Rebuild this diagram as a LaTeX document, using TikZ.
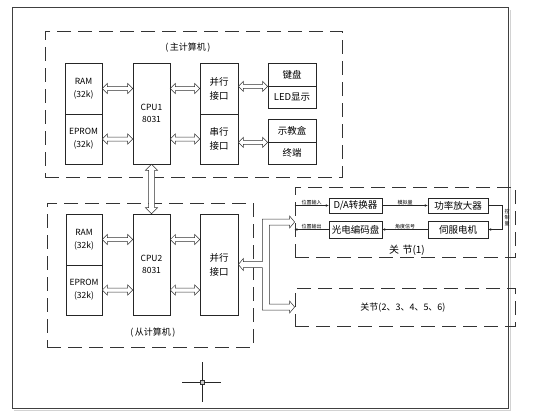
\documentclass[tikz,border=0pt]{standalone}
\usepackage{fontspec}
\setmainfont{Noto Sans CJK SC}
\usetikzlibrary{arrows.meta,calc}
\newcommand\hdarr[2]{\draw[darr] let \p1=(#1),\p2=(#2) in
 (\x1,\y1) -- (\x1+5pt,\y1+5pt) -- (\x1+5pt,\y1+2pt) -- (\x2-5pt,\y1+2pt) -- (\x2-5pt,\y1+5pt) -- (\x2,\y1)
 -- (\x2-5pt,\y1-5pt) -- (\x2-5pt,\y1-2pt) -- (\x1+5pt,\y1-2pt) -- (\x1+5pt,\y1-5pt) -- cycle;}
\newcommand\vdarr[2]{\draw[darr] let \p1=(#1),\p2=(#2) in
 (\x1,\y1) -- (\x1+6pt,\y1-6pt) -- (\x1+3pt,\y1-6pt) -- (\x1+3pt,\y2+6pt) -- (\x1+6pt,\y2+6pt) -- (\x1,\y2)
 -- (\x1-6pt,\y2+6pt) -- (\x1-3pt,\y2+6pt) -- (\x1-3pt,\y1-6pt) -- (\x1-6pt,\y1-6pt) -- cycle;}
\tikzset{
 blk/.style={draw=black!85, line width=0.7pt, inner sep=0pt, align=center, font=\fontsize{8.5}{13}\selectfont},
 cjk/.style={font=\fontsize{9.5}{14}\selectfont},
 darr/.style={draw=black!80, line width=0.5pt, fill=white},
 dbox/.style={draw=black!80, line width=0.8pt, dash pattern=on 14pt off 7pt, inner sep=0pt},
 sig/.style={draw=black!85, line width=0.6pt, -{Stealth[length=3pt,width=2.5pt]}},
 tinylbl/.style={font=\fontsize{5}{5.5}\selectfont, inner sep=0.5pt},
}
\begin{document}
\begin{tikzpicture}[x=1pt,y=-1pt]
\useasboundingbox (0,0) rectangle (554,420);
% outer frame
\draw[gray!35, line width=1pt] (14,410) -- (510,410) -- (510,10);
\draw[black!75, line width=1pt] (12,8) rectangle (508,408);

% dashed group boxes
\node[dbox, minimum width=297pt, minimum height=146pt] (mainbox) at (193.5,104) {};
\node[dbox, minimum width=206pt, minimum height=144pt] (slavebox) at (150,275) {};
\node[dbox, minimum width=220pt, minimum height=70pt] (j1) at (405,222) {};
\node[dbox, minimum width=220pt, minimum height=38pt] (j2) at (405,307) {};

% titles
\node[font=\fontsize{9}{10}\selectfont] (t1) at (188,48) {(\,主计算机\,)};
\node[font=\fontsize{9}{10}\selectfont] (t2) at (153,333) {(\,从计算机\,)};

% master computer
\node[blk, minimum width=37pt, minimum height=51pt] (ram1) at (83.5,88.5) {RAM\\(32k)};
\node[blk, minimum width=37pt, minimum height=50pt] (eprom1) at (83.5,139) {EPROM\\(32k)};
\node[blk, minimum width=37pt, minimum height=101pt, font=\fontsize{8.5}{12}\selectfont] (cpu1) at (151.5,113.5) {CPU1\\8031};
\node[blk, cjk, minimum width=38pt, minimum height=51pt] (par1) at (219,88.5) {并行\\接口};
\node[blk, cjk, minimum width=38pt, minimum height=50pt] (ser1) at (219,139) {串行\\接口};
\node[blk, cjk, minimum width=48pt, minimum height=23pt] (kb) at (292,74.5) {键盘};
\node[blk, cjk, minimum width=48pt, minimum height=22pt] (led) at (292,97) {LED显示};
\node[blk, cjk, minimum width=48pt, minimum height=23pt] (teach) at (292,130.5) {示教盒};
\node[blk, cjk, minimum width=48pt, minimum height=22pt] (term) at (292,153) {终端};

\hdarr{ram1.east}{cpu1.west |- ram1.east}
\hdarr{eprom1.east}{cpu1.west |- eprom1.east}
\hdarr{cpu1.east |- par1.west}{par1.west}
\hdarr{cpu1.east |- ser1.west}{ser1.west}
\hdarr{par1.east |- kb.south}{kb.south west}
\hdarr{ser1.east |- teach.south}{teach.south west}

% slave computer
\node[blk, minimum width=36pt, minimum height=51pt] (ram2) at (84,239.5) {RAM\\(32k)};
\node[blk, minimum width=36pt, minimum height=50pt] (eprom2) at (84,290) {EPROM\\(32k)};
\node[blk, minimum width=37pt, minimum height=101pt, font=\fontsize{8.5}{12}\selectfont] (cpu2) at (151.5,264.5) {CPU2\\8031};
\node[blk, cjk, minimum width=38pt, minimum height=101pt] (par2) at (219,264.5) {并行\\接口};

\hdarr{ram2.east}{cpu2.west |- ram2.east}
\hdarr{eprom2.east}{cpu2.west |- eprom2.east}
\hdarr{cpu2.east |- ram2.east}{par2.west |- ram2.east}
\hdarr{cpu2.east |- eprom2.east}{par2.west |- eprom2.east}

% master <-> slave
\vdarr{cpu1.south}{cpu2.north}

% branching bus to joints
\draw[darr] let \p1=(par2.east),\p2=(j1.west),\p3=(j2.west) in
 (\x1,\y1) -- (\x1+5pt,\y1+6pt) -- (\x1+5pt,\y1+3pt) -- (\x1+24pt,\y1+3pt) -- (\x1+24pt,\y2+3pt)
 -- (\x2-5pt,\y2+3pt) -- (\x2-5pt,\y2+6pt) -- (\x2,\y2) -- (\x2-5pt,\y2-6pt) -- (\x2-5pt,\y2-3pt)
 -- (\x1+31pt,\y2-3pt) -- (\x1+31pt,\y3+3pt) -- (\x3-5pt,\y3+3pt) -- (\x3-5pt,\y3+6pt) -- (\x3,\y3)
 -- (\x3-5pt,\y3-6pt) -- (\x3-5pt,\y3-3pt) -- (\x1+24pt,\y3-3pt) -- (\x1+24pt,\y1-3pt)
 -- (\x1+5pt,\y1-3pt) -- (\x1+5pt,\y1-6pt) -- cycle;

% joint (1)
\node[blk, cjk, minimum width=53pt, minimum height=15pt] (da) at (355.5,205.5) {D/A转换器};
\node[blk, cjk, minimum width=60pt, minimum height=15pt] (amp) at (458,205.5) {功率放大器};
\node[blk, cjk, minimum width=53pt, minimum height=17pt] (enc) at (355.5,229.5) {光电编码盘};
\node[blk, cjk, minimum width=60pt, minimum height=17pt] (servo) at (458,229.5) {伺服电机};

\draw[sig] (j1.west |- da.west) -- node[tinylbl, above] {位置输入} (da.west);
\draw[sig] (da.east) -- node[tinylbl, above] {模拟量} (amp.west);
\draw[sig] (amp.east) -- ++(14,0) coordinate (cr) |- (servo.east);
\node[tinylbl, align=center, font=\fontsize{5}{6}\selectfont] (ctl) at (507,218) {控\\制\\量};
\draw[sig] (servo.west) -- node[tinylbl, above] {角度信号} (enc.east);
\draw[sig] (enc.west) -- node[tinylbl, above] {位置输出} (j1.west |- enc.west);

\node[font=\fontsize{10}{11}\selectfont] (j1lbl) at (407,250) {关\,\,节(1)};
\node[font=\fontsize{9}{10}\selectfont] (j2lbl) at (403,308) {关节(2、3、4、5、6)};

% crosshair mark
\node[draw=black!80, fill=gray!40, minimum size=4pt, inner sep=0pt, line width=0.5pt] (cross) at (202,382) {};
\draw[black!85, line width=0.7pt] (182,382) -- (cross.west) (cross.east) -- (221,382);
\draw[black!85, line width=0.7pt] (202,362) -- (cross.north) (cross.south) -- (202,402);
\end{tikzpicture}
\end{document}
